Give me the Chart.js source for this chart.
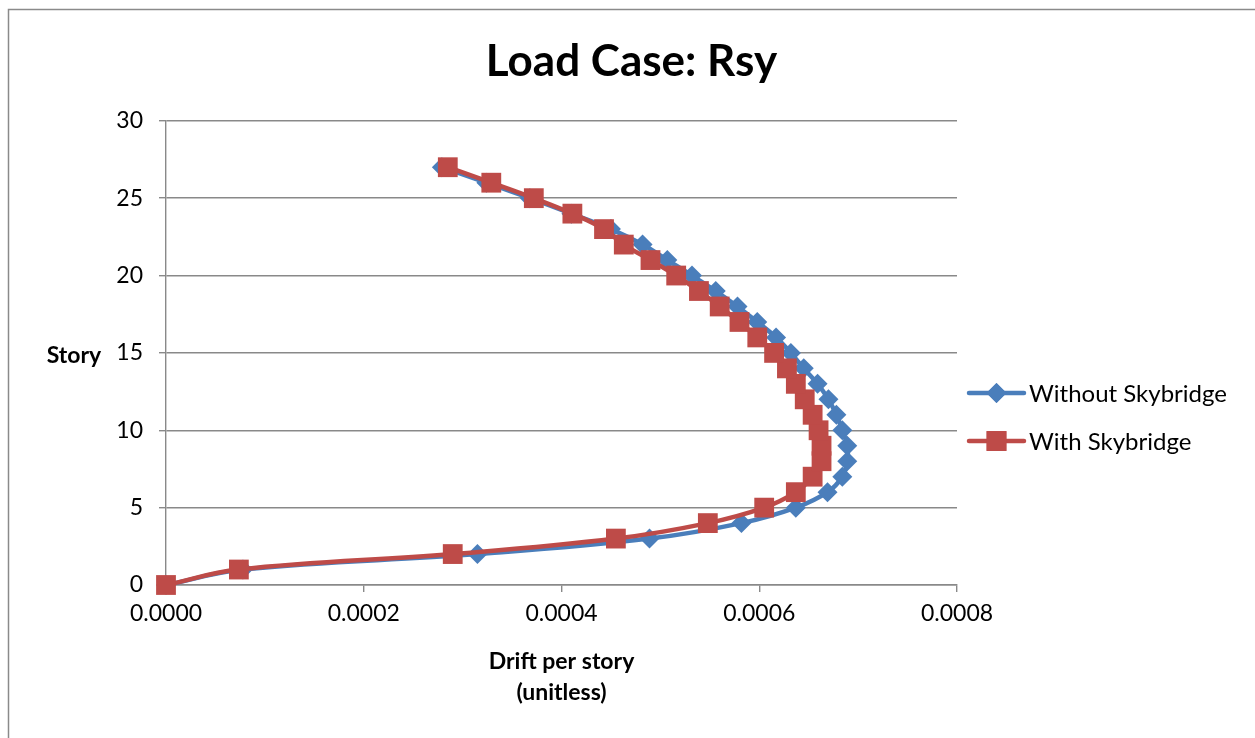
<!DOCTYPE html>
<html>
<head>
<meta charset="utf-8">
<script src="https://cdn.jsdelivr.net/npm/chart.js@4.4.1/dist/chart.umd.min.js"></script>
<style>
  html, body { margin: 0; padding: 0; background: #fff; overflow: hidden; }
  #wrap { position: relative; width: 1255px; height: 738px; }
</style>
</head>
<body>
<div id="wrap"><canvas id="c" width="1255" height="738"></canvas></div>
<script>
// Story numbers (vertical axis)
const stories = [0, 1, 2, 3, 4, 5, 6, 7, 8, 9, 10, 11, 12, 13, 14, 15, 16, 17, 18, 19, 20, 21, 22, 23, 24, 25, 26, 27];

// Drift per story, building without the skybridge
const driftWithout = [0, 0.0000778, 0.000315, 0.000489, 0.000582, 0.000637, 0.000669, 0.000684, 0.000689, 0.000689,
  0.000684, 0.000678, 0.000670, 0.000659, 0.000645, 0.000632, 0.000617, 0.000598, 0.000578, 0.000556,
  0.000532, 0.000507, 0.000482, 0.000450, 0.000410, 0.000368, 0.000324, 0.000279];

// Drift per story, building with the skybridge
const driftWith = [0, 0.0000737, 0.000290, 0.000455, 0.000548, 0.000605, 0.000637, 0.000654, 0.000663, 0.000663,
  0.000660, 0.000654, 0.000646, 0.000637, 0.000628, 0.000615, 0.000598, 0.000580, 0.000560, 0.000539,
  0.000516, 0.000490, 0.000463, 0.000443, 0.000411, 0.000372, 0.000329, 0.000285];

const seriesNames = ['Without Skybridge', 'With Skybridge'];
const xTickValues = [0, 0.0002, 0.0004, 0.0006, 0.0008];
const yTickValues = [0, 5, 10, 15, 20, 25, 30];

const chartTitle = 'Load Case: Rsy';
const yTitle = 'Story';
const xTitle = ['Drift per story', '(unitless)'];

const BLUE = '#4A7EBB';
const RED = '#BE4B48';
const GRID = '#898989';
const FONT = 'Lato, "Open Sans", sans-serif';

const toPoints = (xs) => stories.map((s, i) => ({ x: xs[i], y: s }));

// Outer frame of the chart object
const framePlugin = {
  id: 'frame',
  beforeDraw(chart) {
    const ctx = chart.ctx;
    ctx.save();
    ctx.fillStyle = '#fff';
    ctx.fillRect(0, 0, chart.width, chart.height);
    ctx.strokeStyle = '#8a8a8a';
    ctx.lineWidth = 1.5;
    ctx.strokeRect(8.5, 9.5, chart.width + 20, chart.height + 20);
    ctx.restore();
  }
};

// Horizontal "Story" label and a line+marker legend on the right
const labelsPlugin = {
  id: 'labels',
  afterDraw(chart) {
    const ctx = chart.ctx;
    const area = chart.chartArea;
    ctx.save();
    ctx.fillStyle = '#000';
    ctx.font = 'bold 23px ' + FONT;
    ctx.textAlign = 'center';
    ctx.textBaseline = 'middle';
    ctx.fillText(yTitle, 74, (area.top + area.bottom) / 2 + 3);

    const rows = [
      { name: seriesNames[0], color: BLUE, style: 'rectRot', r: 10, y: 393 },
      { name: seriesNames[1], color: RED, style: 'rect', r: 14, y: 441 }
    ];
    const x0 = area.right + 12, x1 = area.right + 67, xm = (x0 + x1) / 2;
    rows.forEach(row => {
      ctx.strokeStyle = row.color;
      ctx.lineWidth = 4.5;
      ctx.lineCap = 'round';
      ctx.beginPath();
      ctx.moveTo(x0, row.y);
      ctx.lineTo(x1, row.y);
      ctx.stroke();
      ctx.fillStyle = row.color;
      Chart.helpers.drawPoint(ctx, { pointStyle: row.style, radius: row.r, rotation: 0, borderWidth: 0 }, xm, row.y);
      ctx.fill();
      ctx.fillStyle = '#000';
      ctx.font = '24px ' + FONT;
      ctx.textAlign = 'left';
      ctx.textBaseline = 'middle';
      ctx.fillText(row.name, x1 + 5, row.y + 1);
    });
    ctx.restore();
  }
};

new Chart(document.getElementById('c'), {
  type: 'scatter',
  data: {
    datasets: [
      {
        label: seriesNames[0],
        data: toPoints(driftWithout),
        showLine: true,
        borderColor: BLUE,
        backgroundColor: BLUE,
        borderWidth: 4.5,
        tension: 0.4,
        pointStyle: 'rectRot',
        pointRadius: 10,
        pointBorderWidth: 0,
        pointBackgroundColor: BLUE,
        clip: false,
        order: 2
      },
      {
        label: seriesNames[1],
        data: toPoints(driftWith),
        showLine: true,
        borderColor: RED,
        backgroundColor: RED,
        borderWidth: 4.5,
        tension: 0.4,
        pointStyle: 'rect',
        pointRadius: 14,
        pointBorderWidth: 0,
        pointBackgroundColor: RED,
        clip: false,
        order: 1
      }
    ]
  },
  options: {
    responsive: false,
    animation: false,
    events: [],
    layout: { padding: { left: 8, top: 9, right: 0, bottom: 0 } },
    plugins: {
      legend: { display: false },
      tooltip: { enabled: false },
      title: {
        display: true,
        text: chartTitle,
        color: '#000',
        font: { family: FONT, size: 44, weight: 'bold', lineHeight: 1.2 },
        padding: { top: 26, bottom: 33 }
      }
    },
    scales: {
      x: {
        type: 'linear',
        min: 0,
        max: 0.0008,
        afterFit(scale) { scale.height = 153; },
        afterBuildTicks(scale) { scale.ticks = xTickValues.map(v => ({ value: v })); },
        grid: { drawOnChartArea: false, drawTicks: true, tickLength: 7, color: GRID, lineWidth: 1.4 },
        border: { display: true, color: GRID, width: 1.4 },
        ticks: {
          color: '#000',
          padding: 8,
          maxRotation: 0,
          font: { family: FONT, size: 23 },
          callback: v => v.toFixed(4)
        },
        title: {
          display: true,
          text: xTitle,
          color: '#000',
          font: { family: FONT, size: 23, weight: 'bold', lineHeight: 1.35 },
          padding: { top: 0, bottom: 30 }
        }
      },
      y: {
        type: 'linear',
        min: 0,
        max: 30,
        afterFit(scale) { scale.width = 158; },
        afterBuildTicks(scale) { scale.ticks = yTickValues.map(v => ({ value: v })); },
        grid: { drawOnChartArea: true, drawTicks: true, tickLength: 7, color: GRID, lineWidth: 1.4 },
        border: { display: true, color: GRID, width: 1.4 },
        ticks: {
          color: '#000',
          padding: 16,
          font: { family: FONT, size: 23 }
        }
      },
      // empty right-hand band that holds the legend
      legendBand: {
        type: 'linear',
        position: 'right',
        display: true,
        afterFit(scale) { scale.width = 298; },
        grid: { display: false },
        border: { display: false },
        ticks: { display: false }
      }
    }
  },
  plugins: [framePlugin, labelsPlugin]
});
</script>
</body>
</html>
